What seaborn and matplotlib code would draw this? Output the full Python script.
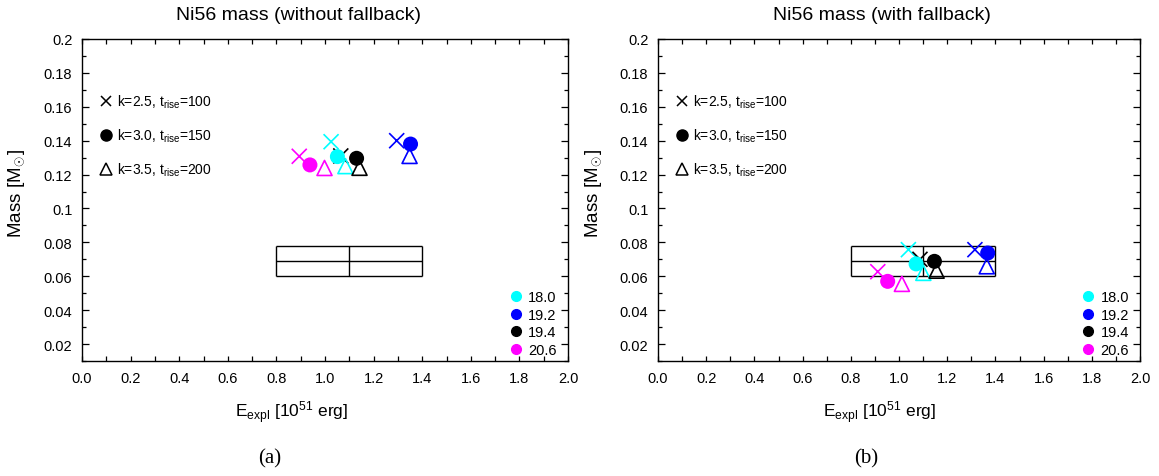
import matplotlib
matplotlib.use('Agg')
import matplotlib.pyplot as plt
import matplotlib.ticker as mticker
from matplotlib.lines import Line2D
import numpy as np
import pandas as pd
import seaborn as sns

# Progenitor masses and their colours
progenitors = ['18.0', '19.2', '19.4', '20.6']
colors = ['#00ffff', '#0000ff', '#000000', '#ff00ff']

# Light-curve models
models = ['k=2.5', 'k=3.0', 'k=3.5']
model_labels = ['k=2.5, t$_{\\rm rise}$=100',
                'k=3.0, t$_{\\rm rise}$=150',
                'k=3.5, t$_{\\rm rise}$=200']

# Explosion energy [1e51 erg] and Ni56 mass [Msun], per model, per progenitor
energy_nofb = {'k=2.5': [1.025, 1.295, 1.065, 0.894],
               'k=3.0': [1.051, 1.352, 1.130, 0.938],
               'k=3.5': [1.084, 1.348, 1.142, 0.998]}
mass_nofb = {'k=2.5': [0.1394, 0.1400, 0.1310, 0.1308],
             'k=3.0': [0.1306, 0.1380, 0.1296, 0.1257],
             'k=3.5': [0.1250, 0.1310, 0.1240, 0.1239]}

energy_fb = {'k=2.5': [1.039, 1.315, 1.087, 0.912],
             'k=3.0': [1.071, 1.368, 1.147, 0.953],
             'k=3.5': [1.101, 1.364, 1.156, 1.012]}
mass_fb = {'k=2.5': [0.0757, 0.0757, 0.0700, 0.0627],
           'k=3.0': [0.0673, 0.0737, 0.0688, 0.0570],
           'k=3.5': [0.0620, 0.0659, 0.0633, 0.0555]}

# Observational constraint boxes
box_e = [0.8, 1.1, 1.4]
box_m = [0.060, 0.069, 0.078]

titles = ['Ni56 mass (without fallback)', 'Ni56 mass (with fallback)']
captions = ['(a)', '(b)']

sns.set_style('ticks')
plt.rcParams['font.family'] = ['Liberation Sans', 'DejaVu Sans']
plt.rcParams['mathtext.fontset'] = 'custom'
plt.rcParams['mathtext.rm'] = 'Liberation Sans'
plt.rcParams['mathtext.it'] = 'Liberation Sans:italic'
for key in ['text.color', 'axes.labelcolor', 'xtick.color', 'ytick.color',
            'axes.edgecolor']:
    plt.rcParams[key] = 'black'

palette = dict(zip(progenitors, colors))
markers = {'k=2.5': 'x', 'k=3.0': 'o', 'k=3.5': '^'}


def to_frame(energy, mass):
    rows = []
    for m in models:
        for p, e, y in zip(progenitors, energy[m], mass[m]):
            rows.append({'model': m, 'progenitor': p, 'energy': e, 'mass': y})
    return pd.DataFrame(rows)


W, H = 1159, 477
fig = plt.figure(figsize=(W / 100, H / 100), dpi=100)
axes = [fig.add_axes([82 / W, 1 - 362 / H, 486 / W, 322 / H]),
        fig.add_axes([658 / W, 1 - 362 / H, 482 / W, 322 / H])]

frames = [to_frame(energy_nofb, mass_nofb), to_frame(energy_fb, mass_fb)]
title_x = [298, 882]
xlabel_x = [292, 880]
caption_x = [270, 866]

for i, (ax, df) in enumerate(zip(axes, frames)):
    ax.hlines(box_m, box_e[0], box_e[-1], color='k', lw=1.0, zorder=1)
    ax.vlines(box_e, box_m[0], box_m[-1], color='k', lw=1.0, zorder=1)

    for m in models:
        sub = df[df['model'] == m]
        if m == 'k=3.0':
            sns.scatterplot(data=sub, x='energy', y='mass', hue='progenitor',
                            palette=palette, marker='o', s=117,
                            edgecolor='face', linewidth=0, legend=False,
                            ax=ax, zorder=3)
        else:
            sns.scatterplot(data=sub, x='energy', y='mass', hue='progenitor',
                            palette=palette, marker=markers[m], s=117,
                            linewidth=1.2, legend=False, ax=ax, zorder=3)
            if m == 'k=3.5':
                coll = ax.collections[-1]
                fc = coll.get_facecolors()
                coll.set_facecolors('none')
                coll.set_edgecolors(fc)
                coll.set_linewidth(1.2)

    ax.set_xlim(0, 2.0)
    ax.set_ylim(0.01, 0.2)
    ax.xaxis.set_major_locator(mticker.MultipleLocator(0.2))
    ax.xaxis.set_minor_locator(mticker.MultipleLocator(0.1))
    ax.yaxis.set_major_locator(mticker.MultipleLocator(0.02))
    ax.yaxis.set_minor_locator(mticker.MultipleLocator(0.01))
    ax.xaxis.set_major_formatter(mticker.FormatStrFormatter('%.1f'))
    ax.yaxis.set_major_formatter(mticker.FuncFormatter(lambda v, p: '%g' % round(v, 3)))
    ax.tick_params(which='both', direction='in', top=True, right=True,
                   labelsize=10.5, width=0.9, colors='k')
    ax.tick_params(axis='x', which='both', length=3.5, pad=7)
    ax.tick_params(axis='y', which='major', length=5, pad=7)
    ax.tick_params(axis='y', which='minor', length=3)
    for sp in ax.spines.values():
        sp.set_linewidth(1.0)
        sp.set_color('k')

    ax.set_xlabel('E$_{\\rm expl}$ [10$^{51}$ erg]', fontsize=12.5)
    ax.xaxis.set_label_coords((xlabel_x[i] - ax.get_position().x0 * W) /
                              (ax.get_position().width * W), -0.115)
    ax.set_ylabel('Mass [M$_{\\odot\\,}$]', fontsize=13.5)
    ax.yaxis.set_label_coords(-0.113, 0.523)

    fig.text(title_x[i] / W, 1 - 15 / H, titles[i], fontsize=14,
             ha='center', va='center')
    fig.text(caption_x[i] / W, 1 - 459 / H, captions[i], fontsize=15,
             ha='center', va='center', family='Liberation Serif')

    # model legend (marker shapes)
    h1 = [Line2D([], [], ls='none', marker='x', color='k', ms=7.5, mew=1.1),
          Line2D([], [], ls='none', marker='o', color='k', ms=8),
          Line2D([], [], ls='none', marker='^', color='k', mfc='none', ms=8, mew=1.1)]
    leg1 = ax.legend(h1, model_labels, loc='upper left',
                     bbox_to_anchor=(0.035, 0.833), frameon=False, fontsize=10,
                     handlelength=1.0, handletextpad=0.3, labelspacing=1.2,
                     borderpad=0, borderaxespad=0)
    ax.add_artist(leg1)

    # progenitor legend (colours)
    h2 = [Line2D([], [], ls='none', marker='o', color=c, ms=7) for c in colors]
    ax.legend(h2, progenitors, loc='lower right', bbox_to_anchor=(0.977, 0.012),
              frameon=False, fontsize=10.5, handlelength=1.0,
              handletextpad=0.35, labelspacing=0.25, borderpad=0,
              borderaxespad=0)

fig.savefig('out.png', dpi=100)
